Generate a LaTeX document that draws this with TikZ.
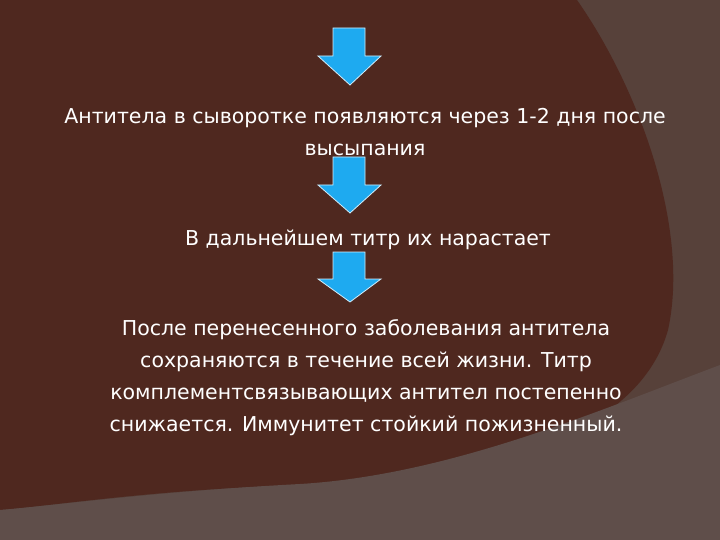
\documentclass[tikz,border=0pt]{standalone}
\usepackage{fontspec}
\setmainfont{DejaVu Sans}
\definecolor{bgout}{HTML}{57413A}
\definecolor{bgdark}{HTML}{4F281F}
\definecolor{bgband}{HTML}{5F4E4A}
\definecolor{arrowblue}{HTML}{1EAAF0}
\begin{document}
\begin{tikzpicture}[x=1pt,y=-1pt,
  txt/.style={text=white,font=\fontsize{20.5}{32}\selectfont,align=center,inner sep=0pt},
  downarrow/.style={fill=arrowblue,draw=white!80!arrowblue,line width=0.8pt,line join=miter}]
\useasboundingbox (0,0) rectangle (720,540);
\fill[bgout] (0,0) rectangle (720,540);
\fill[bgdark] (0,0) -- (577,0) .. controls (640,90) and (690,230) .. (668,330)
  .. controls (640,430) and (500,480) .. (300,485)
  .. controls (150,490) and (60,505) .. (0,510) -- cycle;
\fill[bgband] (720,365) .. controls (600,410) and (450,475) .. (300,484)
  .. controls (150,492) and (60,505) .. (0,510) -- (0,540) -- (720,540) -- cycle;
\foreach \n/\t/\h/\b in {a1/28/56/85, a2/157/185/213, a3/252/279/302}{
  \draw[downarrow] (333,\t) -- (365,\t) -- (365,\h) -- (381,\h) -- (350,\b) -- (318,\h) -- (333,\h) -- cycle;
  \coordinate (\n) at (350,\b);
}
\node[txt] (t1) at (365,132) {Антитела в сыворотке появляются через 1-2 дня после\\высыпания};
\node[txt] (t2) at (368,240) {В дальнейшем титр их нарастает};
\node[txt] (t3) at (366,378) {После перенесенного заболевания антитела\\сохраняются в течение всей жизни. Титр\\комплементсвязывающих антител постепенно\\снижается. Иммунитет стойкий пожизненный.};
\end{tikzpicture}
\end{document}
